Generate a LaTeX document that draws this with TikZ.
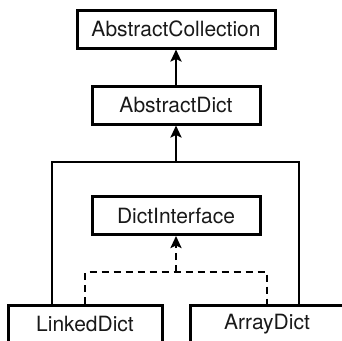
\documentclass[tikz,border=0pt]{standalone}
\usepackage{fontspec}
\setmainfont{TeX Gyre Heros}
\usetikzlibrary{arrows.meta,calc}
\begin{document}
\begin{tikzpicture}[x=1pt,y=-1pt,
  cls/.style={draw,line width=3pt,minimum height=38pt,inner sep=0pt,font=\fontsize{21}{21}\selectfont,text=black!90},
  conn/.style={line width=2.8pt},
  tip/.style={-{Stealth[length=12pt,width=11pt,inset=2.5pt]}},
  dsh/.style={line width=2.8pt,dash pattern=on 7pt off 5pt}]
\useasboundingbox (0,0) rectangle (342,340);
\clip (0,0) rectangle (342,340);
\node[cls,minimum width=198pt] (ac) at (176,29) {AbstractCollection};
\node[cls,minimum width=168pt] (ad) at (176,105) {AbstractDict};
\node[cls,minimum width=168pt] (di) at (176,215.5) {DictInterface};
\node[cls,minimum width=154pt] (ld) at (85,324) {LinkedDict};
\node[cls,minimum width=154pt] (ar) at (267,324) {ArrayDict};
\coordinate (j1) at (176,162);
\coordinate (j2) at (176,272);
\coordinate (lp) at ($(ld.north)+(-33,0)$);
\coordinate (rp) at ($(ar.north)+(32,0)$);
\draw[conn,tip] (ad.north) -- (ac.south);
\draw[conn,tip] (j1) -- (ad.south);
\draw[conn] (lp) |- (j1) -| (rp);
\draw[dsh] (ld.north) |- (j2) -| (ar.north);
\draw[dsh,tip] (j2) -- (di.south);
\end{tikzpicture}
\end{document}
